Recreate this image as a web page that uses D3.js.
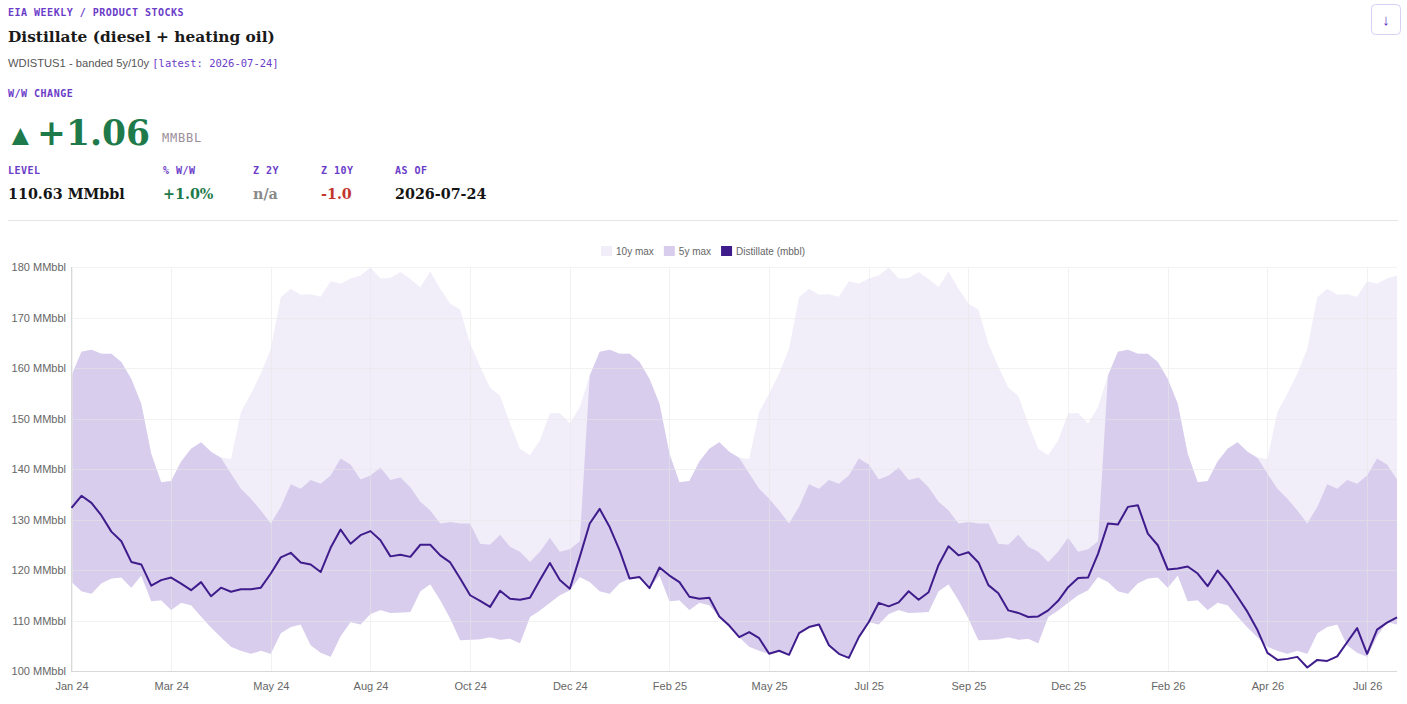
<!DOCTYPE html>
<html>
<head>
<meta charset="utf-8">
<script src="https://cdn.jsdelivr.net/npm/d3@7"></script>
<style>
  body { margin: 0; background: #fff; }
  svg { display: block; }
  .mono { font-family: "DejaVu Sans Mono", "Liberation Mono", monospace; }
  .serif { font-family: "DejaVu Serif", Georgia, serif; }
  .sans { font-family: "Liberation Sans", Arial, sans-serif; }
</style>
</head>
<body>
<div id="chart-area"></div>
<script>
// Weekly distillate stocks (MMbbl), first week ending 2024-01-05
const startDate = new Date(2024, 0, 5);
const distillate = [
  132.3, 134.7, 133.3, 130.8, 127.6, 125.7, 121.6, 121.1, 116.9, 118.0,
  118.5, 117.3, 116.0, 117.6, 114.8, 116.5, 115.7, 116.2, 116.2, 116.5,
  119.3, 122.5, 123.4, 121.5, 121.1, 119.6, 124.4, 128.0, 125.2, 126.9,
  127.7, 125.9, 122.7, 123.0, 122.6, 125.0, 125.0, 122.9, 121.5, 118.3,
  115.0, 113.9, 112.7, 115.9, 114.3, 114.1, 114.5, 118.0, 121.4, 118.0,
  116.3, 122.6, 129.2, 132.1, 128.5, 123.9, 118.3, 118.6, 116.4, 120.5,
  118.9, 117.6, 114.7, 114.3, 114.5, 110.8, 109.0, 106.7, 107.7, 106.5,
  103.4, 104.0, 103.2, 107.5, 108.7, 109.2, 105.1, 103.4, 102.6, 106.7,
  109.7, 113.5, 112.8, 113.6, 115.8, 114.1, 115.6, 121.0, 124.7, 122.9,
  123.5, 121.5, 117.0, 115.4, 112.0, 111.5, 110.7, 110.8, 112.0, 113.9,
  116.6, 118.4, 118.5, 123.2, 129.2, 129.0, 132.5, 132.8, 127.2, 124.9,
  120.1, 120.3, 120.7, 119.3, 116.8, 119.9, 117.6, 114.7, 111.7, 108.1,
  103.6, 102.2, 102.4, 102.8, 100.7, 102.2, 102.0, 102.9, 105.7, 108.5,
  103.4, 108.2, 109.57, 110.63
];

// Seasonal bands by week of year (52 weeks), repeated each year
const fiveMin = [
  117.6, 115.8, 115.3, 117.4, 118.3, 118.5, 116.5, 118.9, 113.8, 114.0,
  112.1, 113.5, 113.0, 110.8, 108.6, 106.7, 104.8, 104.0, 103.4, 104.0,
  103.4, 107.5, 108.7, 109.2, 105.1, 103.6, 102.8, 106.9, 109.7, 109.2,
  111.3, 112.1, 111.5, 111.6, 111.7, 115.8, 117.2, 114.0, 110.4, 106.1,
  106.2, 106.3, 106.7, 106.2, 106.4, 105.5, 110.7, 112.0, 113.5, 115.0,
  116.0, 118.6
];
const fiveMax = [
  158.5, 163.2, 163.6, 162.8, 162.8, 161.2, 157.8, 152.9, 143.0, 137.4,
  137.6, 141.5, 144.0, 145.3, 143.4, 142.2, 139.1, 136.1, 134.1, 131.8,
  129.2, 132.5, 137.0, 136.1, 137.8, 137.1, 138.7, 142.1, 140.9, 137.9,
  138.7, 140.3, 137.8, 138.3, 136.4, 133.5, 131.8, 129.2, 129.5, 129.2,
  129.2, 125.2, 125.0, 127.0, 124.6, 123.6, 121.6, 123.6, 126.4, 123.6,
  124.1, 125.7
];
const tenMax = [
  158.5, 163.2, 163.6, 162.8, 162.8, 161.2, 157.8, 152.9, 143.0, 137.4,
  137.6, 141.5, 144.0, 145.3, 143.4, 142.3, 142.0, 151.3, 154.9, 158.9,
  163.8, 174.0, 175.7, 174.5, 174.6, 174.1, 177.2, 176.7, 177.7, 178.3,
  179.9, 177.7, 177.8, 179.0, 177.6, 176.0, 179.1, 175.7, 172.7, 171.6,
  164.8, 160.3, 156.1, 154.5, 149.0, 144.0, 142.7, 145.7, 151.0, 151.1,
  149.0, 152.3
];
const yTicks = [100, 110, 120, 130, 140, 150, 160, 170, 180];

const stats = [
  { label: "LEVEL", value: "110.63 MMbbl", color: "#151515", x: 8 },
  { label: "% W/W", value: "+1.0%", color: "#1e7a4a", x: 163 },
  { label: "Z 2Y", value: "n/a", color: "#8a8a8a", x: 253 },
  { label: "Z 10Y", value: "-1.0", color: "#c2362f", x: 321 },
  { label: "AS OF", value: "2026-07-24", color: "#151515", x: 395 }
];

const dates = distillate.map((d, i) => d3.timeDay.offset(startDate, 7 * i));
const idx = distillate.map((d, i) => i);

const W = 1407, H = 704;
const svg = d3.select("#chart-area").append("svg")
    .attr("width", W)
    .attr("height", H);

// ---- header ----
const purple = "#6a3cc8";
svg.append("text").attr("class", "mono")
    .attr("x", 8).attr("y", 16)
    .attr("font-size", 10).attr("font-weight", "bold").attr("letter-spacing", 0.5)
    .attr("fill", purple)
    .text("EIA WEEKLY / PRODUCT STOCKS");

svg.append("text").attr("class", "serif")
    .attr("x", 8).attr("y", 42)
    .attr("font-size", 15.4).attr("font-weight", "bold")
    .attr("fill", "#1a1a1a")
    .text("Distillate (diesel + heating oil)");

const sub = svg.append("text").attr("x", 8).attr("y", 67);
sub.append("tspan").attr("class", "sans").attr("font-size", 11.2).attr("fill", "#555")
    .text("WDISTUS1 - banded 5y/10y ");
sub.append("tspan").attr("class", "mono").attr("font-size", 10.5).attr("fill", purple)
    .text("[latest: 2026-07-24]");

svg.append("text").attr("class", "mono")
    .attr("x", 8).attr("y", 97)
    .attr("font-size", 10).attr("font-weight", "bold").attr("letter-spacing", 0.5)
    .attr("fill", purple)
    .text("W/W CHANGE");

svg.append("text").attr("class", "sans")
    .attr("x", 6).attr("y", 145)
    .attr("font-size", 29).attr("fill", "#1e7a4a")
    .text("▲");
svg.append("text").attr("class", "serif")
    .attr("x", 37).attr("y", 145)
    .attr("font-size", 34.5).attr("font-weight", "bold")
    .attr("fill", "#1e7a4a")
    .text("+1.06");
svg.append("text").attr("class", "mono")
    .attr("x", 162).attr("y", 142)
    .attr("font-size", 12).attr("letter-spacing", 0.8)
    .attr("fill", "#9a8f98")
    .text("MMBBL");

stats.forEach(s => {
    svg.append("text").attr("class", "mono")
        .attr("x", s.x).attr("y", 174)
        .attr("font-size", 10).attr("font-weight", "bold").attr("letter-spacing", 0.5)
        .attr("fill", purple)
        .text(s.label);
    svg.append("text").attr("class", "serif")
        .attr("x", s.x).attr("y", 199)
        .attr("font-size", 14.3).attr("font-weight", "bold")
        .attr("fill", s.color)
        .text(s.value);
});

svg.append("line")
    .attr("x1", 8).attr("x2", 1398)
    .attr("y1", 220.5).attr("y2", 220.5)
    .attr("stroke", "#e6e6e6");

// download button
svg.append("rect")
    .attr("x", 1371.5).attr("y", 4.5).attr("width", 29).attr("height", 30).attr("rx", 4)
    .attr("fill", "#fff").attr("stroke", "#d8cff5");
svg.append("text").attr("class", "sans")
    .attr("x", 1386).attr("y", 25).attr("text-anchor", "middle")
    .attr("font-size", 15).attr("font-weight", "bold").attr("fill", "#5b2fc0")
    .text("↓");

// ---- chart ----
const xScale = d3.scalePoint().domain(idx).range([71.5, 1397]);
const yScale = d3.scaleLinear().domain([100, 180]).range([671, 267]);

const grid = svg.append("g");
grid.selectAll(".hgrid").data(yTicks).enter().append("line")
    .attr("x1", 71).attr("x2", 1397)
    .attr("y1", d => Math.round(yScale(d)) + 0.5).attr("y2", d => Math.round(yScale(d)) + 0.5)
    .attr("stroke", "#e8e8e8");
const xTickIdx = idx.filter(i => i % 10 === 0);
grid.selectAll(".vgrid").data(xTickIdx).enter().append("line")
    .attr("x1", d => Math.round(xScale(d)) + 0.5).attr("x2", d => Math.round(xScale(d)) + 0.5)
    .attr("y1", 267).attr("y2", 671)
    .attr("stroke", "#e8e8e8");

const tenArea = d3.area()
    .x(i => xScale(i))
    .y0(i => yScale(fiveMin[i % 52]))
    .y1(i => yScale(tenMax[i % 52]));
const fiveArea = d3.area()
    .x(i => xScale(i))
    .y0(i => yScale(fiveMin[i % 52]))
    .y1(i => yScale(fiveMax[i % 52]));

svg.append("path").datum(idx).attr("d", tenArea).attr("fill", "#f1eef9");
svg.append("path").datum(idx).attr("d", fiveArea).attr("fill", "#d8cdec");

// grid over bands (faint)
grid.raise();
grid.attr("opacity", 0.55);

// axes
const xAxis = d3.axisBottom(xScale)
    .tickValues(xTickIdx)
    .tickSize(0)
    .tickPadding(11)
    .tickFormat(i => d3.timeFormat("%b %y")(dates[i]));
const gx = svg.append("g").attr("transform", "translate(0,671)").call(xAxis);
gx.select(".domain").attr("stroke", "#d9d9d9").attr("d", "M71,0.5H1397");
gx.selectAll("text").attr("class", "sans").attr("font-size", 11).attr("fill", "#666");

const yAxis = d3.axisLeft(yScale)
    .tickValues(yTicks)
    .tickSize(0)
    .tickPadding(5)
    .tickFormat(d => d + " MMbbl");
const gy = svg.append("g").attr("transform", "translate(71,0)").call(yAxis);
gy.select(".domain").attr("stroke", "#d9d9d9").attr("d", "M0.5,267V671");
gy.selectAll("text").attr("class", "sans").attr("font-size", 11).attr("fill", "#666");

const line = d3.line()
    .x((d, i) => xScale(i))
    .y(d => yScale(d));
svg.append("path").datum(distillate)
    .attr("d", line)
    .attr("fill", "none")
    .attr("stroke", "#3f1c8c")
    .attr("stroke-width", 2)
    .attr("stroke-linejoin", "round");

// ---- legend ----
const legendItems = [
    { name: "10y max", fill: "#f1eef9" },
    { name: "5y max", fill: "#d8cdec" },
    { name: "Distillate (mbbl)", fill: "#3f1c8c" }
];
const legend = svg.append("g");
let lx = 0;
legendItems.forEach(item => {
    const g = legend.append("g").attr("transform", "translate(" + lx + ",0)");
    g.append("rect").attr("x", 0).attr("y", -5).attr("width", 11).attr("height", 10)
        .attr("fill", item.fill);
    const t = g.append("text").attr("class", "sans")
        .attr("x", 15).attr("y", 4)
        .attr("font-size", 10).attr("fill", "#666")
        .text(item.name);
    lx += 15 + t.node().getComputedTextLength() + 10;
});
legend.attr("transform", "translate(" + (703 - (lx - 10) / 2) + ",251)");
</script>
</body>
</html>
